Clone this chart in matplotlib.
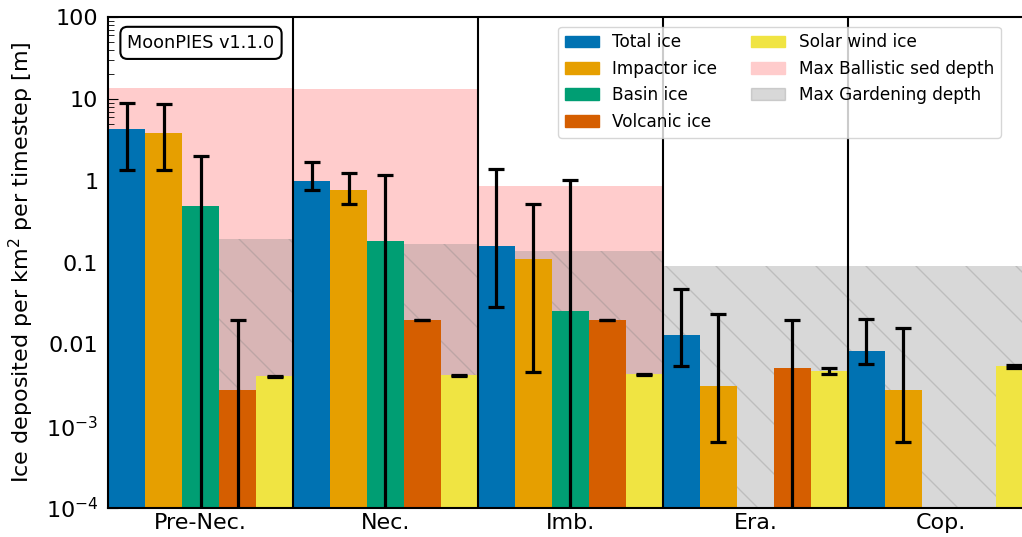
# MoonPIES: осаждение льда по эпохам

import numpy as np
import matplotlib.pyplot as plt
from matplotlib.patches import Patch
from matplotlib.backend_bases import GraphicsContextBase

# редкая штриховка (по умолчанию density=6 слишком густо)
_hatch_path = GraphicsContextBase.get_hatch_path
GraphicsContextBase.get_hatch_path = lambda self, density=4.0: _hatch_path(self, density)

eras = ['Pre-Nec.', 'Nec.', 'Imb.', 'Era.', 'Cop.']
names = ['Total ice', 'Impactor ice', 'Basin ice', 'Volcanic ice', 'Solar wind ice']
colors = ['#0072B2', '#E69F00', '#009E73', '#D55E00', '#F0E442']

# значения (nan = нет столбца)
total = [4.27, 0.99, 0.158, 0.0129, 0.0083]
impactor = [3.82, 0.77, 0.110, 0.0031, 0.0028]
basin = [0.49, 0.183, 0.0255, np.nan, np.nan]
volcanic = [0.00275, 0.0198, 0.0198, 0.0051, np.nan]
solar = [0.0041, 0.0042, 0.0043, 0.0047, 0.0054]

# нижние / верхние границы ошибок
total_lo = [1.35, 0.77, 0.0285, 0.0054, 0.0057]
total_hi = [8.9, 1.69, 1.39, 0.047, 0.0203]
impactor_lo = [1.35, 0.52, 0.0046, 0.00064, 0.00064]
impactor_hi = [8.6, 1.24, 0.52, 0.0234, 0.0158]
basin_lo = [1e-6, 1e-6, 1e-6, np.nan, np.nan]
basin_hi = [2.0, 1.17, 1.02, np.nan, np.nan]
volcanic_lo = [1e-6, 0.0196, 0.0196, 1e-6, np.nan]
volcanic_hi = [0.0198, 0.0201, 0.0201, 0.0199, np.nan]
solar_lo = [0.00405, 0.00415, 0.00425, 0.0043, 0.0052]
solar_hi = [0.00415, 0.00425, 0.00435, 0.0051, 0.0056]

ballistic = [13.6, 13.2, 0.86, np.nan, np.nan]
gardening = [0.193, 0.168, 0.138, 0.0904, 0.0904]

ytick_vals = [1e-4, 1e-3, 1e-2, 1e-1, 1, 10, 100]
ytick_labels = ['$10^{-4}$', '$10^{-3}$', '0.01', '0.1', '1', '10', '100']

series = [(total, total_lo, total_hi), (impactor, impactor_lo, impactor_hi),
          (basin, basin_lo, basin_hi), (volcanic, volcanic_lo, volcanic_hi),
          (solar, solar_lo, solar_hi)]

fig = plt.figure(figsize=(10.22, 5.37), dpi=100)
ax = fig.add_axes([0.1057, 0.054, 0.905, 0.914])

x = np.arange(len(eras))
w = 0.2

ax.bar(x, ballistic, width=1.0, color='#FFCCCC', zorder=0)
ax.bar(x, gardening, width=1.0, color='gray', alpha=0.3, hatch='\\',
       edgecolor='gray', linewidth=0, zorder=1)

for i, (vals, lo, hi) in enumerate(series):
    vals = np.array(vals)
    err = [vals - np.array(lo), np.array(hi) - vals]
    ax.bar(x + (i - 2) * w, vals, width=w, color=colors[i], zorder=2)
    ax.errorbar(x + (i - 2) * w, vals, yerr=err, fmt='none', ecolor='black',
                elinewidth=2.3, capsize=6, capthick=2.3, zorder=3)

for b in x[:-1] + 0.5:
    ax.axvline(b, color='black', linewidth=1.5, zorder=4)

ax.set_yscale('log')
ax.set_ylim(1e-4, 100)
ax.set_xlim(-0.5, 4.5)
ax.set_yticks(ytick_vals)
ax.set_yticklabels(ytick_labels)
ax.set_xticks(x)
ax.set_xticklabels(eras)
ax.tick_params(axis='both', which='major', direction='in', length=7, labelsize=16)
ax.tick_params(axis='both', which='minor', direction='in', length=4)
ax.tick_params(axis='y', pad=7)
ax.tick_params(axis='x', length=0)
for s in ax.spines.values():
    s.set_linewidth(1.5)
    s.set_zorder(5)
ax.set_ylabel('Ice deposited per km$^2$ per timestep [m]', fontsize=16, labelpad=7)

ax.text(0.021, 0.966, 'MoonPIES v1.1.0', transform=ax.transAxes, fontsize=12.7,
        va='top', bbox=dict(boxstyle='round,pad=0.4', facecolor='white',
                            edgecolor='black', linewidth=1.5),
        zorder=6)

handles = [Patch(color=c, label=n) for c, n in zip(colors, names)]
handles.append(Patch(color='#FFCCCC', label='Max Ballistic sed depth'))
handles.append(Patch(facecolor=(0.5, 0.5, 0.5, 0.3), edgecolor=(0.5, 0.5, 0.5, 0.3),
                     hatch='\\', label='Max Gardening depth'))
leg = ax.legend(handles=handles, ncol=2, loc='upper left', bbox_to_anchor=(0.4775, 0.998),
                fontsize=12.2, frameon=True)
leg.set_zorder(7)

fig.savefig('out.png', dpi=100)
